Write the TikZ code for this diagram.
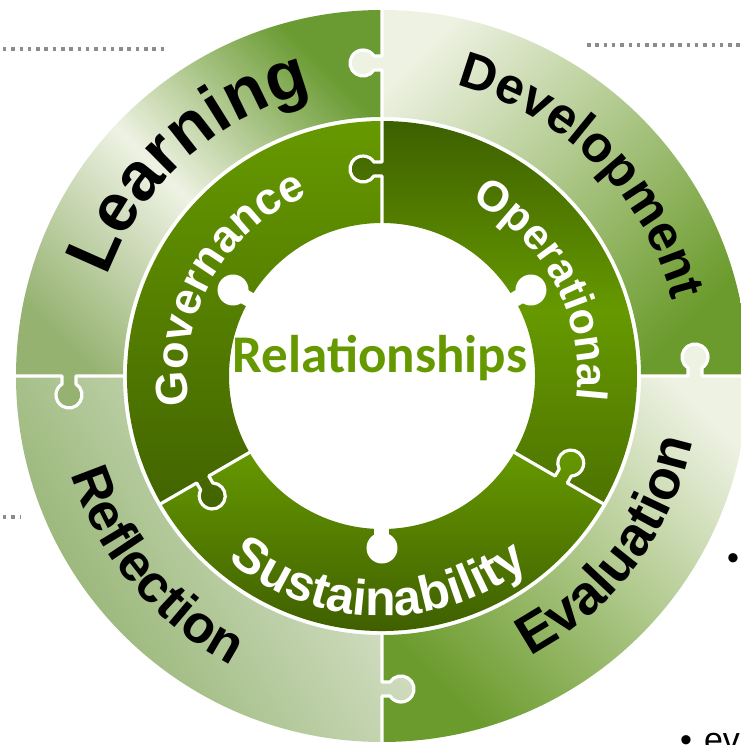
\documentclass[tikz,border=0pt]{standalone}
\usepackage{fontspec}
\setmainfont{Liberation Sans}
\newfontfamily\relfont{Carlito}
\usetikzlibrary{calc}
\usetikzlibrary{decorations.text}

\definecolor{leaf}{HTML}{669900}
\definecolor{moss}{HTML}{3D6000}
\definecolor{cream}{HTML}{EEF2E3}
\definecolor{sage}{HTML}{6A9A32}
\definecolor{fern}{HTML}{95B270}
\definecolor{grass}{HTML}{6B9B2C}
\definecolor{mist}{HTML}{E0E8D6}
\definecolor{lichen}{HTML}{90B06C}
\definecolor{dotgray}{HTML}{8C8C8C}

% annular sector: start angle, end angle, inner radius, outer radius
\newcommand{\ringsector}[4]{(#1:#3) arc[start angle=#1, end angle=#2, radius=#3] -- (#2:#4) arc[start angle=#2, end angle=#1, radius=#4] -- cycle}
% puzzle tab on a divider: angle, radius
\newcommand{\piecetab}[2]{({#1}:{#2-7}) -- ($({#1}:{#2-7})+({#1+90}:8.05)$) arc[start angle={#1+237.42}, end angle={#1-57.42}, radius=13] -- ({#1}:{#2+7}) -- cycle}
% white cut along a divider: angle, tab radius, from, to
\newcommand{\piececut}[4]{({#1}:{#3}) -- ({#1}:{#2-7}) -- ($({#1}:{#2-7})+({#1+90}:8.05)$) arc[start angle={#1+237.42}, end angle={#1-57.42}, radius=13] -- ({#1}:{#2+7}) -- ({#1}:{#4})}

\newcommand{\fnt}[1]{\fontsize{#1}{#1}\selectfont\bfseries}

\begin{document}
\begin{tikzpicture}[x=1pt, y=1pt,
piece/.style={even odd rule},
cut/.style={draw=white, line width=3.2pt, line join=round},
ringtext/.style={decorate, decoration={text along path, text align=center, text color=#1}},
dotline/.style={draw=dotgray, line width=3.5pt, dash pattern=on 3.5pt off 4.8pt},
]
\useasboundingbox (-382,-369) rectangle (358,376);

% outer ring
\shade[piece, top color=sage, bottom color=fern, middle color=cream, shading angle=-45] \ringsector{90}{180}{259}{366} \piecetab{180}{313} \piecetab{90}{313};
\shade[piece, top color=cream, bottom color=grass, shading angle=45] \ringsector{0}{90}{259}{366} \piecetab{90}{313} \piecetab{0}{313};
\shade[piece, top color=cream, bottom color=grass, shading angle=-45] \ringsector{-90}{0}{259}{366} \piecetab{0}{313} \piecetab{-90}{313};
\shade[piece, top color=mist, bottom color=lichen, shading angle=-60] \ringsector{180}{270}{259}{366} \piecetab{270}{313} \piecetab{180}{313};

% inner ring
\shade[piece, top color=leaf, bottom color=leaf!65!black] \ringsector{90}{210}{153}{255} \piecetab{210}{207} \piecetab{90}{207};
\shade[piece, top color=moss, bottom color=leaf!75!black, middle color=leaf] \ringsector{-30}{90}{153}{255} \piecetab{90}{207} \piecetab{-30}{207};
\shade[piece, top color=leaf, bottom color=leaf!55!black] \ringsector{210}{330}{153}{255} \piecetab{330}{207} \piecetab{210}{207};

% cuts
\foreach \a in {0,90,180,270} \draw[cut] \piececut{\a}{313}{257}{368};
\foreach \a in {90,210,330} \draw[cut] \piececut{\a}{207}{151}{257};

% centre tabs
\foreach \a in {30,150,270} {
  \fill[white] (\a:172) circle[radius=15.5];
  \draw[white, line width=15pt] (\a:148) -- (\a:168);
}

% labels
\path[ringtext=black, decoration={text={|\fnt{68}|Learning}}] (192:292) arc[start angle=192, end angle=72, radius=292];
\path[ringtext=black, decoration={text={|\fnt{51}|Development}}] (105:300) arc[start angle=105, end angle=-15, radius=300];
\path[ringtext=black, decoration={text={|\fnt{55}|Evaluation}}] (-97:317) arc[start angle=-97, end angle=23, radius=317];
\path[ringtext=black, decoration={text={|\fnt{53}|Reflection}}] (160:326) arc[start angle=160, end angle=280, radius=326];
\path[ringtext=white, decoration={text={|\fnt{45}|Governance}}] (220.5:195) arc[start angle=220.5, end angle=80.5, radius=195];
\path[ringtext=white, decoration={text={|\fnt{43}|Operational}}] (98:196) arc[start angle=98, end angle=-42, radius=196];
\path[ringtext=white, decoration={text={|\fnt{50}|Sustainability}}] (199:240) arc[start angle=199, end angle=339, radius=240];

\node[anchor=base, text=leaf, font={\relfont\fnt{53}}] (rel) at (-2,4) {Relationships};

% slide leftovers
\draw[dotline] (-379,327) -- (-214,327);
\draw[dotline] (205,331) -- (358,331);
\draw[dotline] (-379,-141) -- (-362,-141);
\node[inner sep=0, font=\fontsize{34}{34}\selectfont] (dot1) at (351,-186) {\textbullet};
\node[anchor=base west, inner sep=0, font=\fontsize{34}{34}\selectfont] (dot2) at (298,-375) {\textbullet\hspace{12pt}ev};
\end{tikzpicture}
\end{document}
